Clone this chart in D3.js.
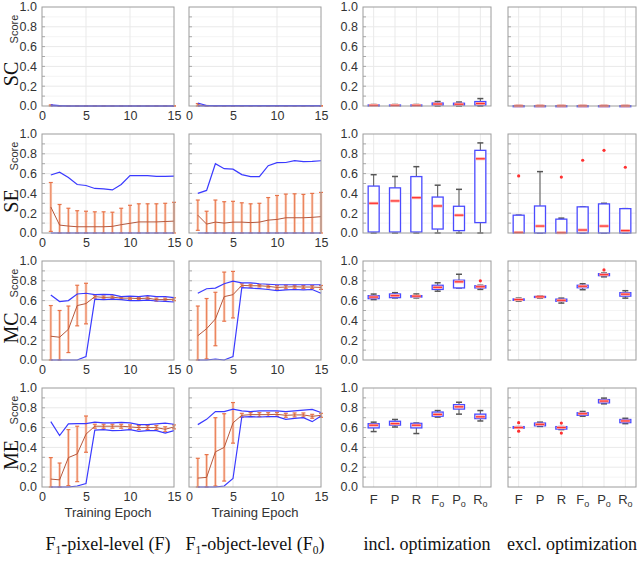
<!DOCTYPE html>
<html>
<head>
<script src="https://d3js.org/d3.v7.min.js"></script>
<style>
  body { margin: 0; background: #fff; }
  svg { font-family: 'Liberation Sans', Arial, sans-serif; }
  .serif { font-family: 'Liberation Serif', 'DejaVu Serif', serif; }
</style>
</head>
<body>
<div id="chart"></div>
<script>
////////////////////////////////////////////////////////////
////////////////////////// Data ////////////////////////////
////////////////////////////////////////////////////////////
var epochs = d3.range(1, 16);
var rowNames = ["SC", "SE", "MC", "ME"];
var boxCats = ["F", "P", "R", "Fo", "Po", "Ro"];
var epochTicks = [0, 5, 10, 15];
var scoreTicks = [0, 0.2, 0.4, 0.6, 0.8, 1.0];

// line panels: max (upper), min (lower), mean and std per epoch
var scPixUpper = [0.012,0.003,0,0,0,0,0,0,0,0,0,0,0,0,0];
var scPixLower = [0,0,0,0,0,0,0,0,0,0,0,0,0,0,0];
var scPixMean  = [0.006,0.001,0,0,0,0,0,0,0,0,0,0,0,0,0];
var scPixSd    = [0.005,0.002,0.001,0.001,0.001,0.001,0.001,0.001,0.001,0.001,0.001,0.001,0.001,0.001,0.001];

var scObjUpper = [0.03,0.005,0.003,0.003,0.003,0.003,0.003,0.003,0.003,0.003,0.003,0.003,0.003,0.003,0.003];
var scObjLower = [0,0,0,0,0,0,0,0,0,0,0,0,0,0,0];
var scObjMean  = [0.012,0.002,0.001,0.001,0.001,0.001,0.001,0.001,0.001,0.001,0.001,0.001,0.001,0.001,0.001];
var scObjSd    = [0.012,0.003,0.002,0.002,0.002,0.002,0.002,0.002,0.002,0.002,0.002,0.002,0.002,0.002,0.002];

var sePixUpper = [0.586,0.614,0.56,0.49,0.48,0.45,0.445,0.435,0.49,0.58,0.58,0.58,0.572,0.572,0.575];
var sePixLower = [0,0,0,0,0,0,0,0,0,0,0,0,0,0,0];
var sePixMean  = [0.263,0.08,0.07,0.063,0.063,0.063,0.063,0.067,0.084,0.098,0.112,0.112,0.112,0.116,0.12];
var sePixSd    = [0.247,0.208,0.18,0.162,0.157,0.151,0.151,0.143,0.166,0.182,0.183,0.183,0.183,0.184,0.19];

var seObjUpper = [0.40,0.43,0.70,0.65,0.645,0.59,0.57,0.57,0.68,0.71,0.712,0.73,0.72,0.723,0.73];
var seObjLower = [0,0,0,0,0,0,0,0,0,0,0,0,0,0,0];
var seObjMean  = [0.18,0.09,0.11,0.10,0.11,0.11,0.105,0.11,0.13,0.137,0.154,0.154,0.154,0.158,0.165];
var seObjSd    = [0.153,0.13,0.223,0.216,0.21,0.195,0.19,0.19,0.228,0.242,0.239,0.242,0.236,0.242,0.245];

var mcPixUpper = [0.656,0.59,0.60,0.667,0.674,0.66,0.663,0.66,0.64,0.645,0.64,0.65,0.64,0.64,0.63];
var mcPixLower = [0,0,0,0,0.035,0.614,0.61,0.614,0.61,0.60,0.60,0.604,0.596,0.593,0.586];
var mcPixMean  = [0.24,0.23,0.31,0.55,0.57,0.64,0.632,0.635,0.625,0.625,0.62,0.625,0.61,0.61,0.614];
var mcPixSd    = [0.31,0.27,0.235,0.205,0.205,0.015,0.015,0.012,0.01,0.012,0.01,0.012,0.015,0.015,0.015];

var mcObjUpper = [0.674,0.72,0.726,0.77,0.796,0.78,0.78,0.77,0.765,0.76,0.76,0.76,0.76,0.76,0.76];
var mcObjLower = [0,0,0.01,0,0.035,0.73,0.726,0.72,0.712,0.70,0.708,0.712,0.708,0.712,0.674];
var mcObjMean  = [0.245,0.316,0.414,0.64,0.66,0.754,0.75,0.75,0.744,0.733,0.737,0.74,0.737,0.737,0.733];
var mcObjSd    = [0.30,0.305,0.27,0.248,0.235,0.015,0.015,0.012,0.015,0.018,0.018,0.015,0.015,0.015,0.02];

var mePixUpper = [0.66,0.52,0.638,0.641,0.641,0.655,0.648,0.648,0.652,0.648,0.63,0.63,0.638,0.645,0.634];
var mePixLower = [0,0,0,0.01,0.035,0.575,0.58,0.57,0.572,0.58,0.562,0.57,0.57,0.545,0.57];
var mePixMean  = [0.08,0.072,0.297,0.334,0.534,0.614,0.614,0.614,0.614,0.607,0.60,0.60,0.60,0.583,0.607];
var mePixSd    = [0.217,0.17,0.283,0.28,0.183,0.02,0.02,0.02,0.02,0.02,0.02,0.02,0.02,0.025,0.02];

var meObjUpper = [0.63,0.683,0.762,0.762,0.786,0.769,0.762,0.769,0.769,0.769,0.762,0.769,0.776,0.783,0.752];
var meObjLower = [0,0,0,0.01,0.086,0.707,0.71,0.707,0.71,0.71,0.683,0.693,0.70,0.66,0.717];
var meObjMean  = [0.09,0.097,0.355,0.40,0.648,0.724,0.731,0.731,0.731,0.734,0.724,0.728,0.728,0.714,0.724];
var meObjSd    = [0.20,0.23,0.345,0.34,0.205,0.02,0.02,0.02,0.02,0.02,0.02,0.02,0.02,0.02,0.02];

// box panels: [min, q1, median, q3, max] per category
var scIncl = [[0,0.003,0.006,0.01,0.015],[0,0.003,0.006,0.01,0.015],[0,0.003,0.006,0.01,0.015],
              [0,0.01,0.02,0.03,0.045],[0,0.01,0.018,0.028,0.04],[0,0.01,0.025,0.045,0.075]];
var scExcl = [[0,0,0.001,0.003,0.005],[0,0,0.001,0.003,0.005],[0,0,0.001,0.003,0.005],
              [0,0,0.001,0.003,0.005],[0,0,0.001,0.003,0.005],[0,0,0.001,0.003,0.005]];
var seIncl = [[0,0.01,0.30,0.474,0.589],[0,0.01,0.324,0.456,0.571],[0,0.01,0.357,0.57,0.67],
              [0,0.04,0.273,0.363,0.483],[0,0.024,0.18,0.27,0.441],[0,0.105,0.75,0.835,0.91]];
var seExcl = [[0,0,0.005,0.18,0.18],[0,0,0.07,0.273,0.62],[0,0,0.003,0.14,0.15],
              [0,0,0.03,0.264,0.264],[0,0,0.07,0.294,0.30],[0,0,0.024,0.246,0.246]];
var mcIncl = [[0.61,0.62,0.636,0.65,0.666],[0.627,0.63,0.65,0.667,0.68],[0.627,0.636,0.645,0.65,0.667],
              [0.695,0.713,0.734,0.755,0.78],[0.728,0.728,0.79,0.806,0.866],[0.713,0.728,0.74,0.75,0.755]];
var mcExcl = [[0.595,0.603,0.61,0.617,0.625],[0.625,0.632,0.638,0.642,0.648],[0.575,0.593,0.603,0.615,0.625],
              [0.71,0.73,0.745,0.755,0.77],[0.84,0.852,0.862,0.872,0.878],[0.625,0.645,0.665,0.68,0.70]];
var meIncl = [[0.56,0.597,0.624,0.64,0.655],[0.606,0.625,0.64,0.664,0.682],[0.54,0.597,0.624,0.643,0.646],
              [0.706,0.715,0.733,0.757,0.772],[0.736,0.787,0.81,0.832,0.856],[0.667,0.691,0.709,0.736,0.772]];
var meExcl = [[0.594,0.594,0.60,0.61,0.61],[0.612,0.618,0.633,0.646,0.655],[0.58,0.585,0.60,0.61,0.61],
              [0.715,0.724,0.74,0.75,0.763],[0.84,0.85,0.868,0.883,0.898],[0.64,0.65,0.667,0.682,0.694]];

// outliers: [category index, value]
var scInclOut = [], scExclOut = [];
var seInclOut = [];
var seExclOut = [[0,0.577],[2,0.565],[3,0.735],[4,0.835],[5,0.664]];
var mcInclOut = [[5,0.80]];
var mcExclOut = [[4,0.91]];
var meInclOut = [];
var meExclOut = [[0,0.65],[0,0.564],[2,0.646],[2,0.545]];

////////////////////////////////////////////////////////////
//////////////////////// Set-Up ////////////////////////////
////////////////////////////////////////////////////////////
var lineRows = [
  [{up:scPixUpper, lo:scPixLower, mean:scPixMean, sd:scPixSd}, {up:scObjUpper, lo:scObjLower, mean:scObjMean, sd:scObjSd}],
  [{up:sePixUpper, lo:sePixLower, mean:sePixMean, sd:sePixSd}, {up:seObjUpper, lo:seObjLower, mean:seObjMean, sd:seObjSd}],
  [{up:mcPixUpper, lo:mcPixLower, mean:mcPixMean, sd:mcPixSd}, {up:mcObjUpper, lo:mcObjLower, mean:mcObjMean, sd:mcObjSd}],
  [{up:mePixUpper, lo:mePixLower, mean:mePixMean, sd:mePixSd}, {up:meObjUpper, lo:meObjLower, mean:meObjMean, sd:meObjSd}]
];
var boxRows = [
  [{stats:scIncl, out:scInclOut}, {stats:scExcl, out:scExclOut}],
  [{stats:seIncl, out:seInclOut}, {stats:seExcl, out:seExclOut}],
  [{stats:mcIncl, out:mcInclOut}, {stats:mcExcl, out:mcExclOut}],
  [{stats:meIncl, out:meInclOut}, {stats:meExcl, out:meExclOut}]
];

var W = 640, H = 566;
var rowTop = [7, 134, 261, 388], plotH = 99;
var lineCols = [{x:42, w:132}, {x:189, w:132}];
var boxCols = [{x:363, w:128}, {x:508, w:128}];

var blue = "#3a3aff", meanCol = "#b5583c", errCol = "#e8744a", errLight = "#f9cdb9";
var gridCol = "#e9e9e9", frameCol = "#9c9c9c";

var svg = d3.select("#chart").append("svg")
    .attr("width", W)
    .attr("height", H);

// light grid, inner minor ticks, for both panel kinds
function grid(g, x0, x1, ys, vx) {
  g.selectAll(".hg").data(d3.range(0.1, 1.0, 0.1)).enter().append("line")
    .attr("x1", x0).attr("x2", x1)
    .attr("y1", function(d) { return ys(d); }).attr("y2", function(d) { return ys(d); })
    .attr("stroke", function(d, i) { return i % 2 ? gridCol : "#f4f4f4"; });
  g.selectAll(".vg").data(vx).enter().append("line")
    .attr("x1", function(d) { return d; }).attr("x2", function(d) { return d; })
    .attr("y1", ys(0)).attr("y2", ys(1)).attr("stroke", gridCol);
  g.selectAll(".mt").data(d3.range(0.1, 1.0, 0.1)).enter().append("line")
    .attr("x1", x0).attr("x2", x0 + 3)
    .attr("y1", function(d) { return ys(d); }).attr("y2", function(d) { return ys(d); })
    .attr("stroke", "#aaa");
}

function frame(g, x0, x1, ys) {
  g.append("rect")
    .attr("x", x0).attr("y", ys(1))
    .attr("width", x1 - x0).attr("height", ys(0) - ys(1))
    .attr("fill", "none").attr("stroke", frameCol).attr("stroke-width", 1);
}

function yLabels(g, x0, ys) {
  g.selectAll(".yl").data(scoreTicks).enter().append("text")
    .attr("x", x0 - 5).attr("y", function(d) { return ys(d); })
    .attr("dy", "0.35em").attr("text-anchor", "end")
    .attr("font-size", 12.5).attr("fill", "#333")
    .text(d3.format(".1f"));
}

////////////////////////////////////////////////////////////
////////////////////// Line panels /////////////////////////
////////////////////////////////////////////////////////////
lineRows.forEach(function(row, r) {
  var ys = d3.scaleLinear().domain([0, 1]).range([rowTop[r] + plotH, rowTop[r]]);
  row.forEach(function(p, c) {
    var col = lineCols[c];
    var xs = d3.scaleLinear().domain([0, 15]).range([col.x, col.x + col.w]);
    var g = svg.append("g");
    grid(g, col.x, col.x + col.w, ys, [xs(5), xs(10)]);

    var line = function(arr) {
      return d3.line().x(function(d, i) { return xs(epochs[i]); }).y(function(d) { return ys(d); })(arr);
    };

    // error bars
    var eb = g.selectAll(".eb").data(p.mean).enter().append("g");
    eb.each(function(m, i) {
      var lo = Math.max(0, m - p.sd[i]), hi = Math.min(1, m + p.sd[i]);
      var e = d3.select(this), cx = xs(epochs[i]);
      e.append("rect").attr("x", cx - 1.3).attr("width", 2.6)
        .attr("y", ys(hi)).attr("height", ys(lo) - ys(hi)).attr("fill", errLight);
      e.append("line").attr("x1", cx).attr("x2", cx).attr("y1", ys(hi)).attr("y2", ys(lo))
        .attr("stroke", errCol).attr("stroke-width", 0.9);
      [hi, lo].forEach(function(v) {
        e.append("line").attr("x1", cx - 2).attr("x2", cx + 2).attr("y1", ys(v)).attr("y2", ys(v))
          .attr("stroke", errCol).attr("stroke-width", 1.2);
      });
    });

    g.append("path").attr("d", line(p.mean)).attr("fill", "none")
      .attr("stroke", meanCol).attr("stroke-width", 1);
    [p.up, p.lo].forEach(function(arr) {
      g.append("path").attr("d", line(arr)).attr("fill", "none")
        .attr("stroke", blue).attr("stroke-width", 1.2);
    });

    frame(g, col.x, col.x + col.w, ys);
    if (c === 0) yLabels(g, col.x, ys);

    g.append("g")
      .attr("transform", "translate(0," + (ys(0) + 2) + ")")
      .call(d3.axisBottom(xs).tickValues(epochTicks).tickSize(0).tickPadding(3))
      .call(function(a) { a.select(".domain").remove(); })
      .selectAll("text").attr("font-size", 12.5).attr("fill", "#333")
      .attr("font-family", "'Liberation Sans', Arial, sans-serif");
  });

  // row title and "Score"
  var yc = rowTop[r];
  svg.append("text").attr("class", "serif")
    .attr("transform", "translate(18," + (yc + 67) + ") rotate(-90)")
    .attr("text-anchor", "middle").attr("font-size", 20).attr("fill", "#111")
    .text(rowNames[r]);
  svg.append("text")
    .attr("transform", "translate(18," + (yc + 22) + ") rotate(-90)")
    .attr("text-anchor", "middle").attr("font-size", 11).attr("fill", "#333")
    .text("Score");
});

////////////////////////////////////////////////////////////
/////////////////////// Box panels /////////////////////////
////////////////////////////////////////////////////////////
boxRows.forEach(function(row, r) {
  var ys = d3.scaleLinear().domain([0, 1]).range([rowTop[r] + plotH, rowTop[r]]);
  row.forEach(function(p, c) {
    var col = boxCols[c];
    var xs = d3.scalePoint().domain(boxCats).range([col.x, col.x + col.w]).padding(0.5);
    var g = svg.append("g");
    grid(g, col.x, col.x + col.w, ys, boxCats.map(xs));

    var bw = 11;
    var bx = g.selectAll(".box").data(p.stats).enter().append("g");
    bx.each(function(s, i) {
      var e = d3.select(this), cx = xs(boxCats[i]);
      e.append("line").attr("x1", cx).attr("x2", cx).attr("y1", ys(s[4])).attr("y2", ys(s[0]))
        .attr("stroke", "#555").attr("stroke-width", 1);
      [s[0], s[4]].forEach(function(v) {
        e.append("line").attr("x1", cx - 3).attr("x2", cx + 3).attr("y1", ys(v)).attr("y2", ys(v))
          .attr("stroke", "#555").attr("stroke-width", 1.5);
      });
      e.append("rect").attr("x", cx - bw / 2).attr("width", bw)
        .attr("y", ys(s[3])).attr("height", Math.max(1, ys(s[1]) - ys(s[3])))
        .attr("fill", "#fff").attr("stroke", "#4b4bff").attr("stroke-width", 1.3);
      e.append("line").attr("x1", cx - bw / 2 + 1).attr("x2", cx + bw / 2 - 1)
        .attr("y1", ys(s[2])).attr("y2", ys(s[2]))
        .attr("stroke", "#ffb0a8").attr("stroke-width", 3);
      e.append("line").attr("x1", cx - bw / 2 + 1).attr("x2", cx + bw / 2 - 1)
        .attr("y1", ys(s[2])).attr("y2", ys(s[2]))
        .attr("stroke", "#ff3030").attr("stroke-width", 1.2);
    });

    g.selectAll(".out").data(p.out).enter().append("circle")
      .attr("cx", function(d) { return xs(boxCats[d[0]]); })
      .attr("cy", function(d) { return ys(d[1]); })
      .attr("r", 1.6).attr("fill", "#ff3030");

    frame(g, col.x, col.x + col.w, ys);
    if (c === 0) yLabels(g, col.x, ys);

    if (r === 3) {
      var tl = g.selectAll(".xl").data(boxCats).enter().append("text")
        .attr("x", function(d) { return xs(d); })
        .attr("y", ys(0) + 17)
        .attr("text-anchor", "middle").attr("font-size", 13).attr("fill", "#333");
      tl.append("tspan").text(function(d) { return d.charAt(0); });
      tl.filter(function(d) { return d.length > 1; }).append("tspan")
        .attr("font-size", 9).attr("dy", 3).text("o");
    }
  });
});

////////////////////////////////////////////////////////////
///////////////////// Bottom titles ////////////////////////
////////////////////////////////////////////////////////////
var yBase = rowTop[3] + plotH;
lineCols.forEach(function(col) {
  svg.append("text")
    .attr("x", col.x + col.w / 2).attr("y", yBase + 30)
    .attr("text-anchor", "middle").attr("font-size", 13).attr("fill", "#333")
    .text("Training Epoch");
});

var titles = [
  [["F", 0], ["1", 1], ["-pixel-level (F)", 0]],
  [["F", 0], ["1", 1], ["-object-level (F", 0], ["0", 1], [")", 0]],
  [["incl. optimization", 0]],
  [["excl. optimization", 0]]
];
var titleX = [lineCols[0].x + lineCols[0].w / 2, lineCols[1].x + lineCols[1].w / 2,
              boxCols[0].x + boxCols[0].w / 2, boxCols[1].x + boxCols[1].w / 2];
titles.forEach(function(parts, i) {
  var t = svg.append("text").attr("class", "serif")
    .attr("x", titleX[i]).attr("y", yBase + 63)
    .attr("text-anchor", "middle").attr("font-size", 18).attr("fill", "#111");
  var prevSub = false;
  parts.forEach(function(pt) {
    var ts = t.append("tspan").text(pt[0]);
    if (pt[1]) { ts.attr("font-size", 11.5).attr("dy", 4); prevSub = true; }
    else if (prevSub) { ts.attr("dy", -4); prevSub = false; }
  });
});
</script>
</body>
</html>
